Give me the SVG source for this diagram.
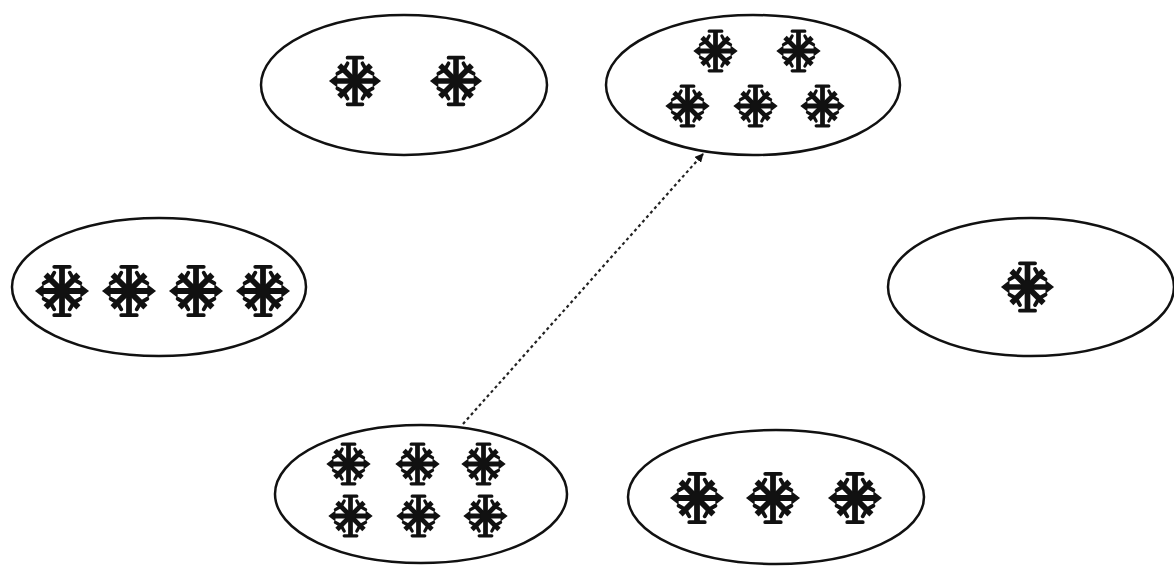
<svg xmlns="http://www.w3.org/2000/svg" xmlns:xlink="http://www.w3.org/1999/xlink" width="1174" height="568" viewBox="0 0 1174 568">
<style>
.set{fill:none;stroke:#111;stroke-width:2.5}
.sp{stroke:#111;stroke-width:6;stroke-linecap:butt;fill:none}
.br{stroke:#111;stroke-width:4;stroke-linecap:round;fill:none}
.conn{stroke:#222;stroke-width:2.2;stroke-dasharray:3 3;fill:none}
</style>
<defs>
<symbol id="sf" viewBox="-29 -29 58 58">
<line class="sp" x1="-22" y1="0" x2="22" y2="0"/>
<line class="sp" x1="0" y1="-24" x2="0" y2="24"/>
<line class="sp" x1="-17" y1="-17" x2="17" y2="17"/>
<line class="sp" x1="-17" y1="17" x2="17" y2="-17"/>
<path d="M-28,0 L-19,-7 L-19,7 Z M28,0 L19,-7 L19,7 Z" fill="#111"/>
<path class="br" d="M-8,-25 L8,-25 M-8,25 L8,25"/>
<path class="br" d="M-19,-8 L-12,-12 L-8,-19 M19,-8 L12,-12 L8,-19 M-19,8 L-12,12 L-8,19 M19,8 L12,12 L8,19"/>
<circle cx="0" cy="0" r="7" fill="#111"/>
</symbol>
<marker id="ah" viewBox="0 0 10 10" refX="9" refY="5" markerWidth="4" markerHeight="4" orient="auto">
<path d="M0,0 L10,5 L0,10 Z" fill="#111"/>
</marker>
</defs>
<rect width="1174" height="568" fill="#fff"/>
<g id="connectors">
<line class="conn" x1="463" y1="424" x2="703" y2="154" marker-end="url(#ah)"/>
</g>
<g id="set2">
<ellipse class="set" cx="404" cy="85" rx="143" ry="70"/>
<use href="#sf" x="324" y="54" width="62" height="54"/>
<use href="#sf" x="425" y="54" width="62" height="54"/>
</g>
<g id="set5">
<ellipse class="set" cx="753" cy="85" rx="147" ry="70"/>
<use href="#sf" x="688" y="28" width="55" height="46"/>
<use href="#sf" x="771" y="28" width="55" height="46"/>
<use href="#sf" x="660" y="83" width="55" height="46"/>
<use href="#sf" x="728" y="83" width="55" height="46"/>
<use href="#sf" x="795" y="83" width="55" height="46"/>
</g>
<g id="set4">
<ellipse class="set" cx="159" cy="287" rx="147" ry="69"/>
<use href="#sf" x="33" y="263" width="58" height="56"/>
<use href="#sf" x="100" y="263" width="58" height="56"/>
<use href="#sf" x="167" y="263" width="58" height="56"/>
<use href="#sf" x="234" y="263" width="58" height="56"/>
</g>
<g id="set1">
<ellipse class="set" cx="1031" cy="287" rx="143" ry="69"/>
<use href="#sf" x="1000" y="259" width="55" height="56"/>
</g>
<g id="set6">
<ellipse class="set" cx="421" cy="494" rx="146" ry="69"/>
<use href="#sf" x="321" y="441" width="55" height="46"/>
<use href="#sf" x="390" y="441" width="55" height="46"/>
<use href="#sf" x="456" y="441" width="55" height="46"/>
<use href="#sf" x="323" y="493" width="55" height="46"/>
<use href="#sf" x="391" y="493" width="55" height="46"/>
<use href="#sf" x="458" y="493" width="55" height="46"/>
</g>
<g id="set3">
<ellipse class="set" cx="776" cy="497" rx="148" ry="67"/>
<use href="#sf" x="668" y="470" width="58" height="56"/>
<use href="#sf" x="744" y="470" width="58" height="56"/>
<use href="#sf" x="826" y="470" width="58" height="56"/>
</g>
</svg>
